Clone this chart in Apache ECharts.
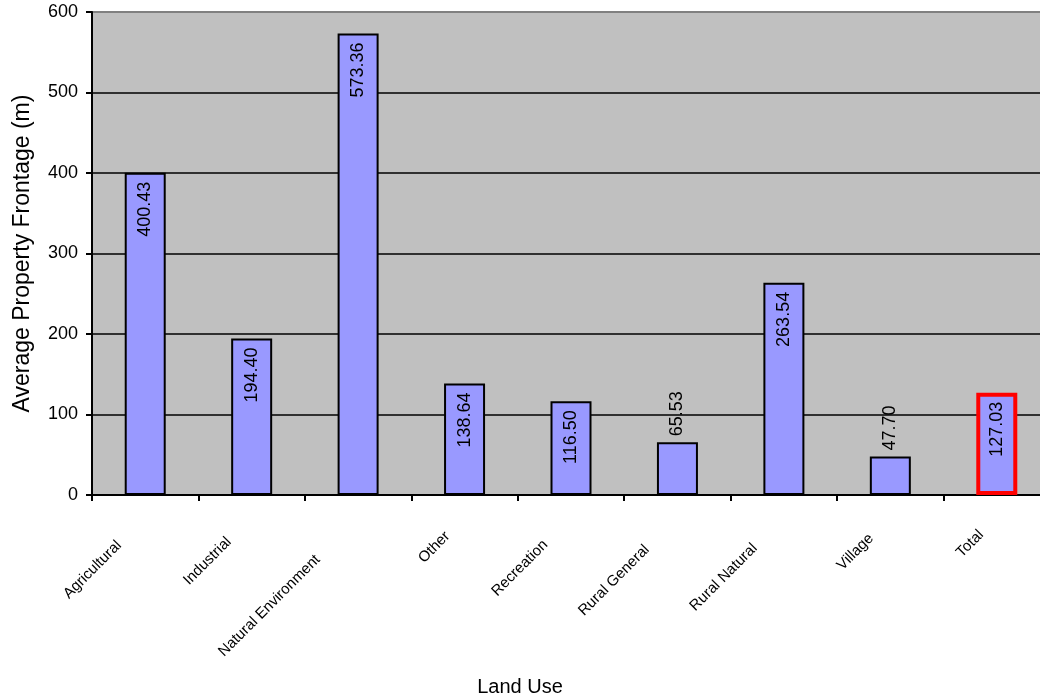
<!DOCTYPE html>
<html>
<head>
<meta charset="utf-8">
<title>Average Property Frontage by Land Use</title>
<script src="https://cdn.jsdelivr.net/npm/echarts@6/dist/echarts.min.js"></script>
<style>
  html, body { margin: 0; padding: 0; background: #ffffff; }
  #chart { width: 1040px; height: 700px; }
</style>
</head>
<body>
<div id="chart"></div>
<script>
// Land use categories and their average property frontage (metres)
const categories = ['Agricultural', 'Industrial', 'Natural Environment', 'Other', 'Recreation',
                    'Rural General', 'Rural Natural', 'Village', 'Total'];
const frontage = [400.43, 194.40, 573.36, 138.64, 116.50, 65.53, 263.54, 47.70, 127.03];

// Value axis range
const yMin = 0;
const yMax = 600;
const yStep = 100;

const FONT = '"Liberation Sans", Arial, Helvetica, sans-serif';
const CAT_FONT = '"Liberation Sans Narrow", "Liberation Sans", Arial, sans-serif';
const CAT_SIZE = 15;

// Rotated category labels slide along their slant in proportion to their length
const measureCtx = document.createElement('canvas').getContext('2d');
measureCtx.font = CAT_SIZE + 'px ' + CAT_FONT;
const catRich = {};
categories.forEach(function (name, i) {
  const w = measureCtx.measureText(name).width;
  catRich['c' + i] = {
    fontFamily: CAT_FONT,
    fontSize: CAT_SIZE,
    color: '#000000',
    padding: [0, Math.round(0.33 * w + 12), 0, 0]
  };
});

// Short bars carry their value above the bar, the rest inside near the top
const barData = frontage.map(function (v, i) {
  const isTotal = categories[i] === 'Total';
  const outside = v < 100;
  return {
    value: v,
    itemStyle: {
      color: '#9999FF',
      borderColor: isTotal ? '#FF0000' : '#000000',
      borderWidth: isTotal ? 4 : 2
    },
    label: outside
      ? { position: 'top', distance: 6, align: 'left', verticalAlign: 'middle' }
      : { position: 'insideTop', distance: 9, align: 'right', verticalAlign: 'middle' }
  };
});

const chart = echarts.init(document.getElementById('chart'), null, { renderer: 'canvas' });

chart.setOption({
  animation: false,
  backgroundColor: '#ffffff',
  grid: {
    left: 92,
    top: 12,
    right: -10,
    bottom: 205,
    show: true,
    backgroundColor: '#C0C0C0',
    borderColor: '#808080',
    borderWidth: 2,
    containLabel: false,
    outerBoundsMode: 'none'
  },
  graphic: [{
    type: 'text',
    left: 'center',
    top: 677,
    style: {
      text: 'Land Use',
      fontFamily: FONT,
      fontSize: 20,
      fill: '#000000'
    }
  }],
  xAxis: {
    type: 'category',
    data: categories,
    boundaryGap: true,
    axisLine: { show: true, lineStyle: { color: '#000000', width: 2 } },
    axisTick: { show: true, length: 6, lineStyle: { color: '#000000', width: 2 } },
    axisLabel: {
      interval: 0,
      rotate: 45,
      margin: 22,
      hideOverlap: false,
      formatter: function (value, index) {
        return '{c' + index + '|' + value + '}';
      },
      rich: catRich
    },
    splitLine: { show: false }
  },
  yAxis: {
    type: 'value',
    min: yMin,
    max: yMax,
    interval: yStep,
    name: 'Average Property Frontage (m)',
    nameLocation: 'middle',
    nameGap: 58,
    nameTextStyle: { fontFamily: FONT, fontSize: 23, color: '#000000' },
    axisLine: { show: true, lineStyle: { color: '#000000', width: 2 } },
    axisTick: { show: true, length: 6, lineStyle: { color: '#000000', width: 2 } },
    axisLabel: { fontFamily: FONT, fontSize: 18, color: '#000000', margin: 14 },
    splitLine: {
      show: true,
      showMinLine: false,
      showMaxLine: false,
      lineStyle: { color: '#000000', width: 1.5 }
    }
  },
  series: [{
    type: 'bar',
    data: barData,
    barWidth: 41,
    label: {
      show: true,
      rotate: 90,
      fontFamily: FONT,
      fontSize: 18,
      color: '#000000',
      formatter: function (p) { return p.value.toFixed(2); }
    }
  }]
});
</script>
</body>
</html>
